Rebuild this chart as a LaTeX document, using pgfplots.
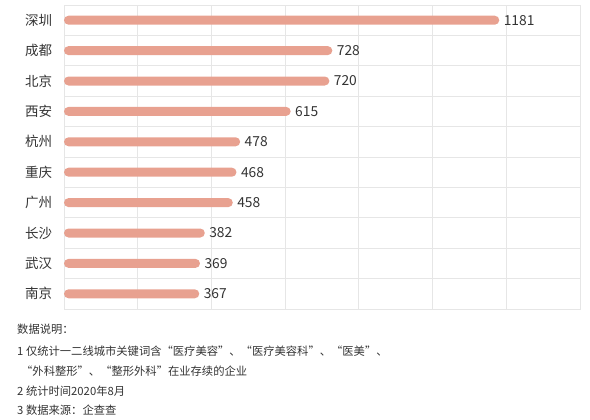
\documentclass[border=0pt]{standalone}
\usepackage{fontspec}
\setmainfont{Noto Sans CJK SC}
\usepackage{pgfplots}
\pgfplotsset{compat=1.18}
\definecolor{barc}{RGB}{232,161,144}
\definecolor{gridc}{RGB}{230,230,230}
\definecolor{txt}{RGB}{51,51,51}
\begin{document}
\begin{tikzpicture}
\useasboundingbox (0pt,0pt) rectangle (590pt,-420pt);
\begin{axis}[
  at={(64pt,-5pt)}, anchor=north west,
  width=516pt, height=304pt, scale only axis,
  xbar, bar width=9pt,
  xmin=0, xmax=1400, ymin=-0.5, ymax=9.5, y dir=reverse,
  ytick={0,...,9},
  yticklabels={深圳,成都,北京,西安,杭州,重庆,广州,长沙,武汉,南京},
  minor ytick={-0.5,0.5,...,9.5},
  yminorgrids, xmajorgrids,
  xtick={0,200,...,1400}, xticklabels={},
  major tick style={draw=none}, minor tick style={draw=none},
  axis line style={draw=gridc},
  grid style={gridc, line width=0.8pt},
  minor grid style={gridc, line width=0.8pt},
  yticklabel style={font=\fontsize{13.5}{15}\selectfont, text=txt, xshift=-4pt},
  /pgf/number format/assume math mode=true,
  /pgf/number format/1000 sep={},
  nodes near coords,
  nodes near coords style={font=\fontsize{13.8}{15}\selectfont, text=txt, anchor=west, xshift=1pt},
]
\addplot[fill=barc, draw=none, rounded corners=4.5pt] coordinates {
(1181,0) (728,1) (720,2) (615,3) (478,4) (468,5) (458,6) (382,7) (369,8) (367,9)};
\end{axis}
\begin{scope}[every node/.style={anchor=west, inner sep=0pt, text=txt, font=\fontsize{11.3}{13}\selectfont}]
\node at (17pt,-329pt) {数据说明：};
\node at (17pt,-351pt) {1 仅统计一二线城市关键词含“医疗美容”、“医疗美容科”、“医美”、};
\node at (21pt,-371pt) {“外科整形”、“整形外科”在业存续的企业};
\node at (17pt,-391pt) {2 统计时间2020年8月};
\node at (17pt,-410pt) {3 数据来源：企查查};
\end{scope}
\end{tikzpicture}
\end{document}
